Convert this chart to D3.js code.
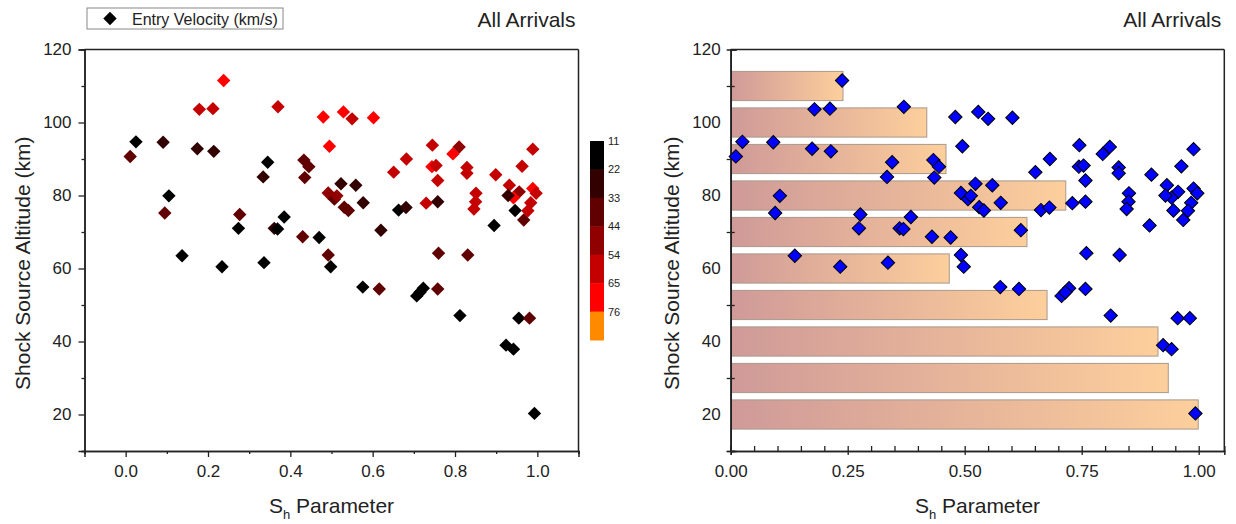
<!DOCTYPE html>
<html>
<head>
<meta charset="utf-8">
<script src="https://cdn.jsdelivr.net/npm/d3@7"></script>
<style>
  body { margin: 0; background: #fff; }
  text { font-family: "Liberation Sans", Arial, sans-serif; fill: #222; }
</style>
</head>
<body>
<div id="chart"></div>
<script>
// values
var shParam = [0.238,0.179,0.212,0.370,0.480,0.025,0.091,0.011,0.174,0.214,
               0.495,0.345,0.334,0.433,0.445,0.435,0.492,0.507,0.105,0.095,
               0.277,0.274,0.385,0.361,0.369,0.430,0.470,0.529,0.550,0.602,
               0.745,0.810,0.795,0.989,0.682,0.651,0.744,0.754,0.758,0.829,
               0.829,0.899,0.963,0.932,0.956,0.942,0.929,0.989,0.997,0.984,
               0.977,0.946,0.967,0.851,0.850,0.846,0.895,0.730,0.758,0.663,
               0.681,0.523,0.559,0.513,0.531,0.541,0.577,0.620,0.137,0.234,
               0.336,0.492,0.498,0.760,0.831,0.576,0.616,0.707,0.723,0.715,
               0.758,0.812,0.955,0.981,0.924,0.942,0.993];
var altitude = [111.5,103.6,103.8,104.3,101.5,94.7,94.6,90.7,92.8,92.1,
                93.5,89.1,85.1,89.7,87.9,84.9,80.7,79.0,79.9,75.2,
                74.8,71.0,74.1,71.0,70.8,68.7,68.5,102.9,101.0,101.3,
                93.8,93.3,91.4,92.7,90.0,86.4,87.9,88.2,84.1,87.7,
                86.1,85.7,88.0,82.8,81.0,79.4,80.0,81.9,80.6,78.0,
                75.8,75.9,73.3,80.6,78.3,76.3,71.8,77.9,78.3,76.0,
                76.7,83.2,82.8,79.9,76.8,75.9,78.0,70.5,63.5,60.5,
                61.6,63.7,60.5,64.2,63.7,54.9,54.4,52.5,54.6,53.5,
                54.4,47.1,46.4,46.4,39.0,37.9,20.3];
var velocity = [66,56,62,64,70,15,30,35,32,32,
                72,15,30,38,40,35,50,40,15,36,
                36,15,15,28,15,36,15,70,58,70,
                62,52,70,60,60,55,70,64,64,64,
                60,62,64,64,48,66,26,70,64,64,
                62,15,35,64,62,58,15,55,30,15,
                30,30,30,50,40,40,28,30,15,15,
                15,36,15,36,36,15,36,15,15,15,
                36,15,15,36,15,15,15];

var velBreaks = [11,22,33,44,54,65,76];
var velColors = ["#000000","#320000","#600000","#900000","#c40000","#ff0000","#ff8a00"];

var binAltitude = [20,30,40,50,60,70,80,90,100,110];
var binSh = [0.999,0.935,0.913,0.676,0.467,0.633,0.716,0.460,0.419,0.240];

var points = shParam.map(function(d, i){ return {x: d, y: altitude[i], v: velocity[i]}; });

var svg = d3.select("#chart").append("svg")
    .attr("width", 1236).attr("height", 524);

var defs = svg.append("defs");
var grad = defs.append("linearGradient").attr("id", "barGrad");
grad.append("stop").attr("offset", "0%").attr("stop-color", "#cf9a98");
grad.append("stop").attr("offset", "100%").attr("stop-color", "#fdcf9c");

var colour = d3.scaleThreshold().domain(velBreaks.slice(1)).range(velColors);
var diamond = d3.symbol().type(d3.symbolSquare).size(90);

function frame(g, w, h){
    g.append("line").attr("x1", 0).attr("x2", w).attr("y1", 0).attr("y2", 0)
        .attr("stroke", "#222").attr("stroke-width", 1.5);
    g.append("line").attr("x1", w).attr("x2", w).attr("y1", 0).attr("y2", h)
        .attr("stroke", "#222").attr("stroke-width", 1.5);
}

function styleAxis(sel){
    sel.selectAll(".domain").attr("stroke", "#222").attr("stroke-width", 1.5);
    sel.selectAll(".tick line").attr("stroke", "#222").attr("stroke-width", 1.3);
    sel.selectAll(".tick text").attr("font-size", "17px").attr("fill", "#222")
        .attr("font-family", "Liberation Sans, Arial, sans-serif");
}

function axisTitles(g, w, h, cx){
    g.append("text")
        .attr("transform", "translate(" + cx + "," + (h/2 + 13) + ") rotate(-90)")
        .attr("text-anchor", "middle").attr("font-size", "21px")
        .text("Shock Source Altitude (km)");
    var t = g.append("text").attr("x", w/2).attr("y", h + 62)
        .attr("text-anchor", "middle").attr("font-size", "21px");
    t.append("tspan").text("S");
    t.append("tspan").attr("font-size", "13px").attr("dy", 6).text("h");
    t.append("tspan").attr("dy", -6).text(" Parameter");
    g.append("text").attr("x", w - 3).attr("y", -23)
        .attr("text-anchor", "end").attr("font-size", "21px")
        .text("All Arrivals");
}

// ---------- left panel ----------
var L = {left: 84.5, top: 49.5, w: 494, h: 401.5};
var gl = svg.append("g").attr("transform", "translate(" + L.left + "," + L.top + ")");
var xl = d3.scaleLinear().domain([-0.1, 1.1]).range([0, L.w]);
var yl = d3.scaleLinear().domain([10, 120]).range([L.h, 0]);

gl.append("g").call(d3.axisLeft(yl).tickValues([10,30,50,70,90,110]).tickSize(3).tickFormat(""))
    .call(styleAxis);
gl.append("g").call(d3.axisLeft(yl).tickValues([20,40,60,80,100,120]).tickSize(6).tickPadding(7))
    .call(styleAxis);
gl.append("g").attr("transform", "translate(0," + L.h + ")")
    .call(d3.axisBottom(xl).tickValues([-0.1,0.1,0.3,0.5,0.7,0.9,1.1]).tickSize(3).tickFormat(""))
    .call(styleAxis);
gl.append("g").attr("transform", "translate(0," + L.h + ")")
    .call(d3.axisBottom(xl).tickValues([0,0.2,0.4,0.6,0.8,1.0]).tickSize(6).tickPadding(8).tickFormat(d3.format(".1f")))
    .call(styleAxis);
frame(gl, L.w, L.h);

gl.selectAll(".pt").data(points).enter().append("path")
    .attr("class", "pt")
    .attr("d", diamond)
    .attr("transform", function(d){ return "translate(" + xl(d.x) + "," + yl(d.y) + ") rotate(45)"; })
    .attr("fill", function(d){ return colour(d.v); });

axisTitles(gl, L.w, L.h, -55);

// legend
var leg = svg.append("g").attr("transform", "translate(87,8)");
leg.append("rect").attr("width", 196).attr("height", 21)
    .attr("fill", "#fff").attr("stroke", "#888").attr("stroke-width", 1);
leg.append("path").attr("d", diamond).attr("transform", "translate(23,10.5) rotate(45)").attr("fill", "#000");
leg.append("text").attr("x", 45).attr("y", 16.5).attr("font-size", "16px").text("Entry Velocity (km/s)");

// colour bar
var cb = svg.append("g").attr("transform", "translate(590,141)");
var cbY = d3.scaleBand().domain(velColors).range([0, 199]);
cb.selectAll("rect").data(velColors).enter().append("rect")
    .attr("x", 0).attr("y", function(d){ return cbY(d); })
    .attr("width", 14).attr("height", cbY.bandwidth() + 0.5)
    .attr("fill", function(d){ return d; });
cb.selectAll("text").data(velBreaks).enter().append("text")
    .attr("x", 18).attr("y", function(d, i){ return cbY(velColors[i]) + 4; })
    .attr("font-size", "11px").attr("fill", "#444")
    .text(function(d){ return d; });

// ---------- right panel ----------
var R = {left: 730.7, top: 49.5, w: 493.6, h: 401.5};
var gr = svg.append("g").attr("transform", "translate(" + R.left + "," + R.top + ")");
var xr = d3.scaleLinear().domain([0, 1.0547]).range([0, R.w]);
var yr = d3.scaleLinear().domain([10, 120]).range([R.h, 0]);

gr.append("g").call(d3.axisLeft(yr).tickValues([20,40,60,80,100,120]).tickSize(-6).tickPadding(10))
    .call(styleAxis);

gr.selectAll(".bin").data(binAltitude).enter().append("rect")
    .attr("class", "bin")
    .attr("x", xr(0))
    .attr("y", function(d){ return yr(d + 4); })
    .attr("width", function(d, i){ return xr(binSh[i]) - xr(0); })
    .attr("height", function(d){ return yr(d - 4) - yr(d + 4); })
    .attr("fill", "url(#barGrad)")
    .attr("stroke", "#a8998c").attr("stroke-width", 1);

gr.append("g").call(d3.axisLeft(yr).tickValues([10,30,50,70,90,110]).tickSize(4).tickFormat(""))
    .call(styleAxis);
gr.append("g").call(d3.axisLeft(yr).tickValues([10,30,50,70,90,110]).tickSize(-4).tickFormat(""))
    .call(styleAxis);
gr.append("g").attr("transform", "translate(0," + R.h + ")")
    .call(d3.axisBottom(xr).tickValues(d3.range(0, 21).map(function(i){ return i * 0.05; })).tickSize(-5).tickFormat(""))
    .call(styleAxis);
gr.append("g").attr("transform", "translate(0," + R.h + ")")
    .call(d3.axisBottom(xr).tickValues([0,0.25,0.5,0.75,1.0]).tickSize(4).tickPadding(10).tickFormat(d3.format(".2f")))
    .call(styleAxis);
frame(gr, R.w, R.h);

gr.selectAll(".pt").data(points).enter().append("path")
    .attr("class", "pt")
    .attr("d", diamond)
    .attr("transform", function(d){ return "translate(" + xr(d.x) + "," + yr(d.y) + ") rotate(45)"; })
    .attr("fill", "#0000ff").attr("stroke", "#000").attr("stroke-width", 1);

axisTitles(gr, R.w, R.h, -52);
</script>
</body>
</html>
